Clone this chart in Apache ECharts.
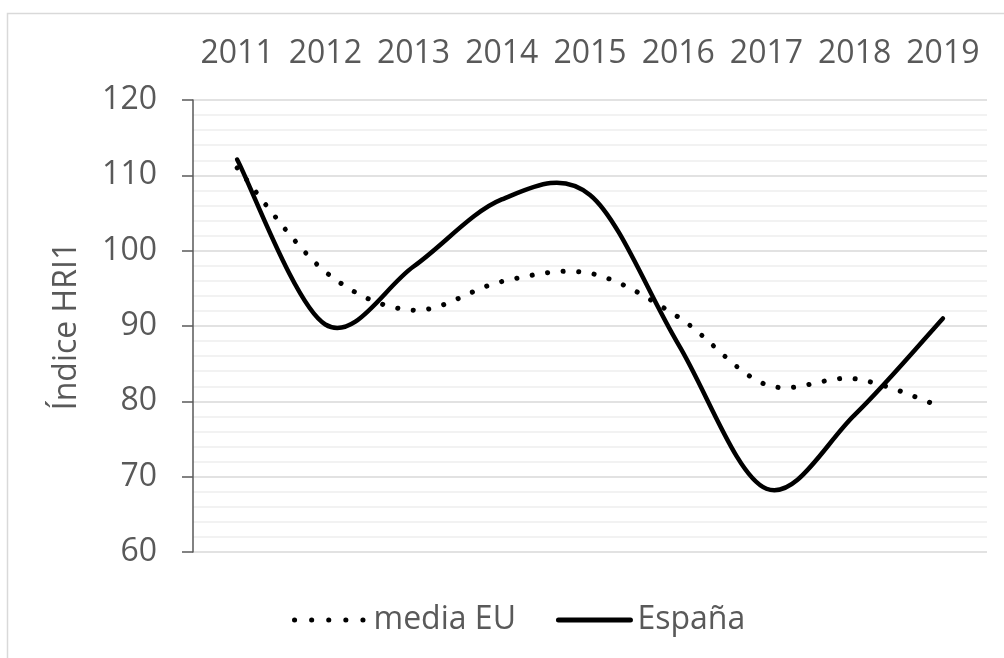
<!DOCTYPE html>
<html>
<head>
<meta charset="utf-8">
<script src="https://cdn.jsdelivr.net/npm/echarts@6/dist/echarts.min.js"></script>
<style>
html,body{margin:0;padding:0;background:#fff;}
#c{width:1004px;height:658px;}
</style>
</head>
<body>
<div id="c"></div>
<script>
var years = ['2011','2012','2013','2014','2015','2016','2017','2018','2019'];
var mediaEU = [111.0, 97.2, 92.1, 95.9, 97.0, 91.2, 82.2, 83.0, 79.2];
var espana = [112.1, 90.2, 97.9, 106.8, 107.4, 87.6, 68.4, 78.2, 91.0];
var yTicks = { min: 60, max: 120, interval: 10 };
var yName = 'Índice HRI1';
var seriesNames = ['media EU', 'España'];

var FONT = 'Open Sans';
var TXT = '#595959';
var FS = 32;

// Excel-like smoothed path (Catmull-Rom as cubic Bezier) through points placed by the axes
function smoothPath(api, vals) {
  var pts = vals.map(function (v, i) { return api.coord([i, v]); });
  var n = pts.length;
  var d = 'M' + pts[0][0] + ' ' + pts[0][1];
  for (var i = 0; i < n - 1; i++) {
    var p0 = pts[i - 1] || pts[i], p1 = pts[i], p2 = pts[i + 1], p3 = pts[i + 2] || pts[i + 1];
    var c1x = p1[0] + (p2[0] - p0[0]) / 6, c1y = p1[1] + (p2[1] - p0[1]) / 6;
    var c2x = p2[0] - (p3[0] - p1[0]) / 6, c2y = p2[1] - (p3[1] - p1[1]) / 6;
    d += ' C' + c1x + ' ' + c1y + ' ' + c2x + ' ' + c2y + ' ' + p2[0] + ' ' + p2[1];
  }
  return d;
}
function curveSeries(id, vals, style) {
  return {
    id: id, type: 'custom', silent: true, clip: false, z: 5,
    data: [[0, vals[0]]],
    renderItem: function (params, api) {
      return {
        type: 'path',
        shape: {pathData: smoothPath(api, vals)},
        style: Object.assign({fill: 'none', stroke: '#000', lineCap: 'round', lineJoin: 'round'}, style)
      };
    }
  };
}

var chart = echarts.init(document.getElementById('c'), null, {renderer: 'canvas'});
chart.setOption({
  backgroundColor: '#fff',
  animation: false,
  graphic: [{
    type: 'rect', silent: true,
    shape: {x: 7.5, y: 13.5, width: 1100, height: 800},
    style: {fill: 'none', stroke: '#d9d9d9', lineWidth: 1.5}
  }],
  grid: {left: 193, right: 17, top: 100, bottom: 106, containLabel: false},
  legend: {
    bottom: 22, left: 292, padding: 0,
    itemWidth: 72, itemHeight: 14, itemGap: 40,
    textStyle: {fontFamily: FONT, fontSize: FS, color: TXT, padding: [0, 0, 0, 2]},
    data: [
      {name: seriesNames[0], itemStyle: {opacity: 0}, lineStyle: {opacity: 1, color: '#000', width: 5, type: [0.1, 17], cap: 'round'}},
      {name: seriesNames[1], itemStyle: {opacity: 0}, lineStyle: {opacity: 1, color: '#000', width: 5, type: 'solid', cap: 'round'}}
    ]
  },
  xAxis: {
    type: 'category', position: 'top', data: years, boundaryGap: true,
    axisLine: {show: false}, axisTick: {show: false},
    axisLabel: {fontFamily: FONT, fontSize: FS, color: TXT, margin: 30, interval: 0, hideOverlap: false},
    splitLine: {show: false}
  },
  yAxis: {
    type: 'value', min: yTicks.min, max: yTicks.max, interval: yTicks.interval,
    name: yName, nameLocation: 'middle', nameGap: 110,
    nameTextStyle: {fontFamily: FONT, fontSize: FS, color: TXT},
    axisLine: {show: true, lineStyle: {color: '#595959', width: 1.5}},
    axisTick: {show: true, length: 11, lineStyle: {color: '#595959', width: 1.5}},
    axisLabel: {fontFamily: FONT, fontSize: FS, color: TXT, margin: 36},
    splitLine: {show: true, lineStyle: {color: '#d9d9d9', width: 1.5}},
    minorTick: {show: false, splitNumber: 5},
    minorSplitLine: {show: true, lineStyle: {color: '#eeeeee', width: 1.5}}
  },
  series: [
    {
      name: seriesNames[0], type: 'line', data: mediaEU, symbol: 'none', silent: true,
      itemStyle: {color: '#000'},
      lineStyle: {color: '#000', width: 5, type: [0.1, 15.5], cap: 'round', opacity: 0}
    },
    {
      name: seriesNames[1], type: 'line', data: espana, symbol: 'none', silent: true,
      itemStyle: {color: '#000'},
      lineStyle: {color: '#000', width: 4.5, cap: 'round', opacity: 0}
    },
    curveSeries('eu_curve', mediaEU, {lineWidth: 5, lineDash: [0.1, 15.5]}),
    curveSeries('es_curve', espana, {lineWidth: 4.5})
  ]
});
</script>
</body>
</html>
